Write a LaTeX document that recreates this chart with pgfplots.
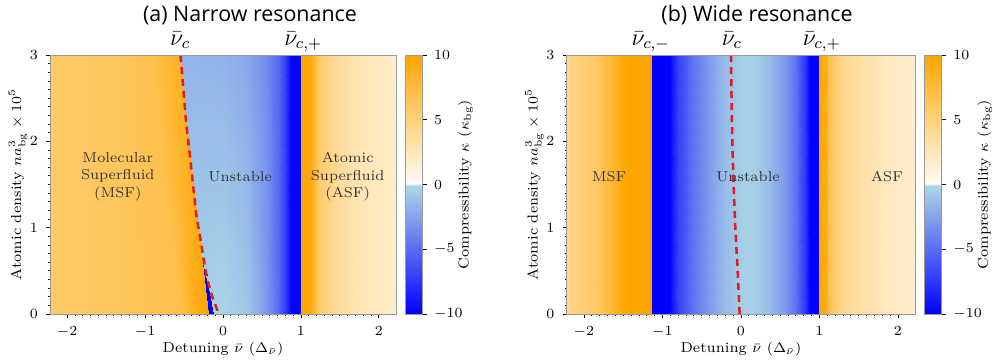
\documentclass[border=0pt]{standalone}
\usepackage{fontspec}
\usepackage{pgfplots}
\pgfplotsset{compat=1.18}
\newfontfamily\titlefont{Open Sans}
\newcommand\fs{\fontsize{7.2}{8.6}\selectfont}
\newcommand\nufs{\fontsize{11.8}{13}\selectfont}
\definecolor{dashred}{RGB}{228,26,28}
\definecolor{txtgray}{RGB}{50,50,50}
\pgfplotsset{
  colormap={kappa}{rgb255(0)=(0,0,255) rgb255(100)=(173,216,230) rgb255(101)=(255,252,245) rgb255(201)=(255,165,0)},
  myaxis/.style={
    scale only axis, height=129.5pt,
    xmin=-2.22, xmax=2.22, ymin=0, ymax=3,
    xtick={-2,-1,0,1,2}, ytick={0,1,2,3},
    minor x tick num=9, minor y tick num=9,
    tick align=outside, tick pos=left,
    major tick length=2pt, minor tick length=1.1pt,
    axis on top, clip=false,
    axis line style={draw=black!40},
    every tick/.style={black},
    tick label style={font=\fs},
    xticklabel style={yshift=-0.8pt},
    yticklabel style={xshift=-0.6pt},
    label style={font=\fs},
    xlabel={Detuning $\bar\nu$ $(\Delta_{\bar\nu})$},
    ylabel={Atomic density $na_{\mathrm{bg}}^3\times10^5$},
    xlabel style={at={(axis description cs:0.5,-0.134)}, anchor=center},
    ylabel style={at={(axis description cs:-0.0925,0.5)}, anchor=center},
    colormap name=kappa, point meta min=-10, point meta max=10,
    colorbar,
    colorbar style={
      scale only axis,
      at={(parent axis.north east)}, anchor=north west, xshift=-4pt,
      width=8.75pt,
      ytick={-10,-5,0,5,10},
      axis line style={draw=black!40},
      tick align=outside, ytick pos=right, yticklabel pos=right,
      major tick length=2pt,
      yticklabel style={font=\fs, xshift=0.3pt},
      ylabel={Compressibility $\kappa$ $(\kappa_{\mathrm{bg}})$},
      ylabel style={font=\fs, at={(axis description cs:3.46,0.5)}, anchor=center},
    },
  },
}
\begin{document}
\begin{tikzpicture}
% ---------------- (a) Narrow resonance ----------------
\begin{axis}[myaxis, width=173pt, at={(25pt,25pt)}, anchor=south west]
\addplot[surf, shader=interp, mesh/cols=21, point meta=explicit] table[x=x, y=y, meta=c] {
x y c
-2.22 0 5.8
-1.2 0 6.3
-0.53 0 7.0
-0.30 0 9.5
-0.18 0 10
-0.18 0 -10
-0.12 0 -10
-0.12 0 -0.3
0.0 0 -0.3
0.3 0 -0.8
0.55 0 -2.8
0.7 0 -5
0.8 0 -7
0.87 0 -10
1.0 0 -10
1.0 0 10
1.12 0 9.5
1.25 0 5.5
1.5 0 3.6
1.8 0 2.6
2.22 0 1.7
-2.22 0.3 5.8
-1.2 0.3 6.3
-0.57 0.3 7.0
-0.34 0.3 9.3
-0.22 0.3 10
-0.22 0.3 -10
-0.185 0.3 -10
-0.185 0.3 -0.4
0.0 0.3 -0.4
0.3 0.3 -0.9
0.55 0.3 -2.8
0.7 0.3 -5
0.8 0.3 -7
0.87 0.3 -10
1.0 0.3 -10
1.0 0.3 10
1.12 0.3 9.5
1.25 0.3 5.5
1.5 0.3 3.6
1.8 0.3 2.6
2.22 0.3 1.7
-2.22 0.6 5.8
-1.2 0.6 6.3
-0.61 0.6 7.0
-0.38 0.6 9.0
-0.26 0.6 9.8
-0.26 0.6 -10
-0.255 0.6 -10
-0.255 0.6 -0.6
0.0 0.6 -0.5
0.3 0.6 -1.0
0.55 0.6 -2.9
0.7 0.6 -5
0.8 0.6 -7
0.87 0.6 -10
1.0 0.6 -10
1.0 0.6 10
1.12 0.6 9.5
1.25 0.6 5.5
1.5 0.6 3.6
1.8 0.6 2.6
2.22 0.6 1.7
-2.22 1 5.8
-1.2 1 6.3
-0.66 1 7.0
-0.43 1 8.6
-0.31 1 9.5
-0.31 1 -0.8
-0.31 1 -0.8
-0.31 1 -0.8
0.0 1 -0.7
0.3 1 -1.2
0.55 1 -3.0
0.7 1 -5
0.8 1 -7
0.87 1 -10
1.0 1 -10
1.0 1 10
1.12 1 9.5
1.25 1 5.5
1.5 1 3.6
1.8 1 2.6
2.22 1 1.7
-2.22 2 5.8
-1.2 2 6.3
-0.79 2 7.0
-0.56 2 8.2
-0.44 2 9.0
-0.44 2 -1.2
-0.44 2 -1.2
-0.44 2 -1.2
0.0 2 -1.2
0.3 2 -1.7
0.55 2 -3.2
0.7 2 -5
0.8 2 -7
0.87 2 -10
1.0 2 -10
1.0 2 10
1.12 2 9.5
1.25 2 5.5
1.5 2 3.6
1.8 2 2.6
2.22 2 1.7
-2.22 3 5.8
-1.2 3 6.3
-0.895 3 7.0
-0.665 3 8.0
-0.545 3 8.8
-0.545 3 -1.6
-0.545 3 -1.6
-0.545 3 -1.6
0.0 3 -1.7
0.3 3 -2.2
0.55 3 -3.5
0.7 3 -5
0.8 3 -7
0.87 3 -10
1.0 3 -10
1.0 3 10
1.12 3 9.5
1.25 3 5.5
1.5 3 3.6
1.8 3 2.6
2.22 3 1.7
};
\addplot[dashred, line width=1.25pt, dash pattern=on 3.5pt off 2.5pt] coordinates {
(-0.545,3) (-0.476,2.25) (-0.40,1.63) (-0.34,1.13) (-0.287,0.857) (-0.261,0.703) (-0.228,0.529) (-0.189,0.363) (-0.145,0.22) (-0.073,0.046) (-0.06,0)
};
\node[font=\fs, text=txtgray, align=center] at (axis cs:-1.35,1.59) {Molecular\\Superfluid\\(MSF)};
\node[font=\fs, text=txtgray] at (axis cs:0.22,1.59) {Unstable};
\node[font=\fs, text=txtgray, align=center] at (axis cs:1.6,1.59) {Atomic\\Superfluid\\(ASF)};
\node[font=\nufs, anchor=base] at ([yshift=5pt]axis cs:-0.55,3) {$\bar\nu_c$};
\node[font=\nufs, anchor=base] at ([yshift=5pt]axis cs:1.03,3) {$\bar\nu_{c,+}$};
\node[font=\titlefont\fontsize{10.7}{13}\selectfont, anchor=center] at (axis description cs:0.578,1.154) {(a) Narrow resonance};
\end{axis}
% ---------------- (b) Wide resonance ----------------
\begin{axis}[myaxis, width=174.25pt, at={(283.35pt,25pt)}, anchor=south west]
\addplot[surf, shader=interp, mesh/cols=28, point meta=explicit] table[x=x, y=y, meta=c] {
x y c
-2.22 0 4.5
-2.0 0 5.2
-1.8 0 6.3
-1.65 0 7.8
-1.5 0 9.6
-1.42 0 10
-1.13 0 10
-1.13 0 -10
-0.92 0 -10
-0.8 0 -7
-0.6 0 -4.5
-0.4 0 -2.7
-0.2 0 -1.3
0.0 0 -0.5
0.15 0 -0.4
0.35 0 -1.2
0.55 0 -2.8
0.7 0 -4.8
0.82 0 -7.5
0.88 0 -10
1.0 0 -10
1.0 0 10
1.06 0 9.5
1.15 0 6
1.3 0 4.2
1.6 0 3
1.9 0 2.2
2.22 0 1.6
-2.22 3 4.5
-2.0 3 5.2
-1.8 3 6.3
-1.65 3 7.8
-1.5 3 9.6
-1.42 3 10
-1.13 3 10
-1.13 3 -10
-0.92 3 -10
-0.8 3 -7
-0.6 3 -4.5
-0.4 3 -2.7
-0.2 3 -1.3
0.0 3 -0.5
0.15 3 -0.4
0.35 3 -1.2
0.55 3 -2.8
0.7 3 -4.8
0.82 3 -7.5
0.88 3 -10
1.0 3 -10
1.0 3 10
1.06 3 9.5
1.15 3 6
1.3 3 4.2
1.6 3 3
1.9 3 2.2
2.22 3 1.6
};
\addplot[dashred, line width=1.25pt, dash pattern=on 3.5pt off 2.5pt] coordinates {
(-0.127,3) (-0.12,2.5) (-0.11,2) (-0.094,1.5) (-0.072,1) (-0.042,0.5) (-0.017,0)
};
\node[font=\fs, text=txtgray] at (axis cs:-1.68,1.59) {MSF};
\node[font=\fs, text=txtgray] at (axis cs:0.09,1.59) {Unstable};
\node[font=\fs, text=txtgray] at (axis cs:1.86,1.59) {ASF};
\node[font=\nufs, anchor=base] at ([yshift=5pt]axis cs:-1.15,3) {$\bar\nu_{c,-}$};
\node[font=\nufs, anchor=base] at ([yshift=5pt]axis cs:-0.115,3) {$\bar\nu_c$};
\node[font=\nufs, anchor=base] at ([yshift=5pt]axis cs:1.03,3) {$\bar\nu_{c,+}$};
\node[font=\titlefont\fontsize{10.7}{13}\selectfont, anchor=center] at (axis description cs:0.546,1.154) {(b) Wide resonance};
\end{axis}
\pgfresetboundingbox
\path[use as bounding box] (0,0) rectangle (496.5pt,182pt);
\end{tikzpicture}
\end{document}
